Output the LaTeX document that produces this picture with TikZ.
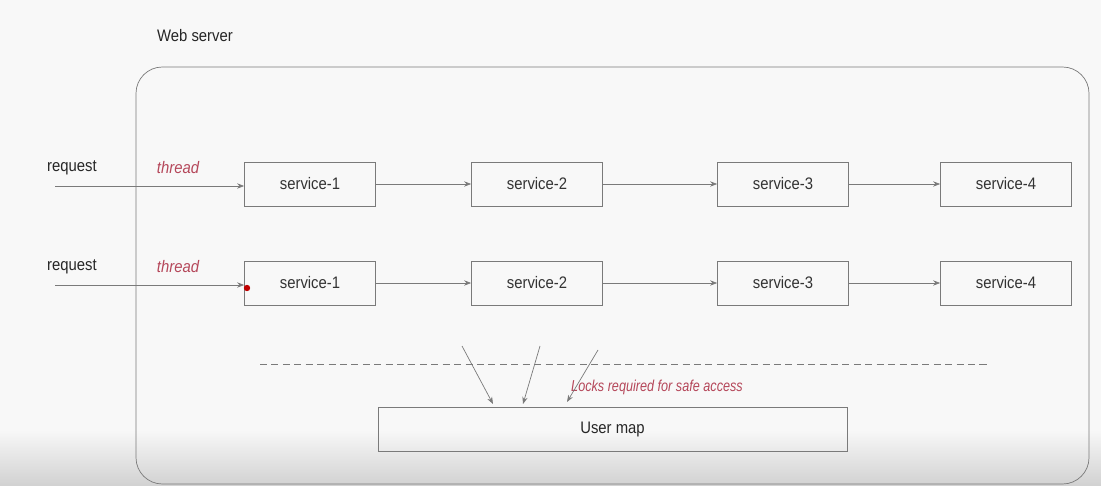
\documentclass[tikz,border=0pt]{standalone}
\usepackage{fontspec}
\setmainfont{Liberation Sans}[FakeStretch=0.89]
\usepackage{xcolor}
\usetikzlibrary{arrows.meta}
\definecolor{bgcol}{HTML}{F8F8F8}
\definecolor{linecol}{HTML}{7A7A7A}
\definecolor{threadred}{HTML}{B5475A}
\begin{document}
\begin{tikzpicture}[x=0.02cm,y=-0.02cm,font=\fontsize{9.5}{11}\selectfont,
	svc/.style={shape=rectangle,draw=linecol,minimum width=2.62cm,minimum height=0.88cm,text=black!80},
	flow/.style={draw=linecol,-{Stealth[length=4pt,width=3pt]}},
	redtext/.style={text=threadred,font=\fontsize{9.5}{11}\selectfont\itshape}]
		% background and screen shading
		\fill[bgcol] (0,0) rectangle (1101,486);
		\shade[top color=bgcol,bottom color=black!18] (0,430) rectangle (1101,486);
		\useasboundingbox (0,0) rectangle (1101,486);
		
		\node[text=black!85] (WebServer) at (195,36) {Web server};
		\draw[linecol,rounded corners=15] (136,67) rectangle (1089,484);
		
		% two request rows
		\foreach \r/\y in {1/184,2/283} {
			\foreach \s/\x in {1/310,2/537,3/783,4/1006} {
				\node[svc] (Service\r\s) at (\x,\y) {service-\s};
			}
			\coordinate (Request\r) at (55,\y+2);
			\node[text=black!85] (RequestLabel\r) at (72,\y-16) {request};
			\node[redtext] (Thread\r) at (178,\y-16) {thread};
			\draw[flow] (Request\r) to (Service\r1.west |- Request\r);
			\foreach \a/\b in {1/2,2/3,3/4} {
				\draw[flow] (Service\r\a) to (Service\r\b);
			}
		}
		
		\fill[red!75!black] (247,288) circle (3.2);
		
		\coordinate (DashStart) at (260,364);
		\coordinate (DashEnd) at (990,364);
		\draw[linecol,dashed,dash pattern=on 4pt off 2.5pt] (DashStart) to (DashEnd);
		
		\node[shape=rectangle,draw=linecol,minimum width=9.38cm,minimum height=0.88cm,text=black!85] (UserMap) at (612.5,429) {User map};
		\node[redtext,font=\fontsize{9}{11}\selectfont\itshape\addfontfeature{FakeStretch=0.8}] (Locks) at (657,387) {Locks required for safe access};
		
		\coordinate (LockFrom1) at (462,346);
		\coordinate (LockFrom2) at (540,346);
		\coordinate (LockFrom3) at (598,350);
		\coordinate (LockTo1) at (493,404);
		\coordinate (LockTo2) at (523,404);
		\coordinate (LockTo3) at (567,402);
		\foreach \k in {1,2,3} {
			\draw[flow] (LockFrom\k) to (LockTo\k);
		}
	\end{tikzpicture}
\end{document}
